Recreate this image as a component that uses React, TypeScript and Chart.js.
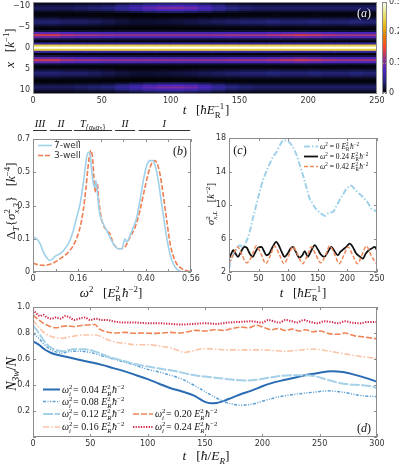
import React, { useEffect, useRef } from 'react';
import { Chart, registerables } from 'chart.js';

Chart.register(...registerables);

const W = 399;
const H = 466;

/* ---------------- panel (a): density map ---------------- */
const heatTimes = [5, 15, 25, 35, 45, 55, 65, 75, 85, 95, 105, 115, 125, 135, 145, 155, 165, 175, 185, 195, 205, 215, 225, 235, 245];
const heatRows = [-11, -10.5, -10, -9.5, -9, -8.5, -8, -7.5, -7, -6.5, -6, -5.5, -5, -4.5, -4, -3.5, -3, -2.5, -2, -1.5, -1, -0.5, 0,
  0.5, 1, 1.5, 2, 2.5, 3, 3.5, 4, 4.5, 5, 5.5, 6, 6.5, 7, 7.5, 8, 8.5, 9, 9.5, 10, 10.5, 11];
const heatProfile = [0.004, 0.012, 0.025, 0.034, 0.026, 0.01, 0.003, 0.006, 0.016, 0.028, 0.03, 0.02, 0.008, 0.003, 0.015, 0.075, 0.12, 0.08, 0.02, 0.004, 0.055, 0.24, 0.3,
  0.24, 0.055, 0.004, 0.02, 0.08, 0.12, 0.075, 0.015, 0.003, 0.008, 0.02, 0.03, 0.028, 0.016, 0.006, 0.003, 0.01, 0.026, 0.034, 0.025, 0.012, 0.004];
const innerBandMod = [1.1, 1.1, 1.0, 0.95, 0.95, 0.92, 0.9, 0.9, 0.9, 0.9, 0.9, 0.9, 0.9, 0.92, 0.95, 0.95, 0.95, 1.0, 1.05, 1.1, 1.05, 1.0, 0.95, 0.95, 0.95];
const middleBandMod = [1.1, 1.1, 1.0, 1.0, 0.9, 0.75, 0.6, 0.5, 0.5, 0.55, 0.6, 0.7, 0.8, 0.9, 1.0, 1.1, 1.1, 1.2, 1.1, 1.1, 1.2, 1.1, 1.1, 1.2, 1.1];
const outerBandMod = [0.8, 0.8, 0.8, 0.9, 1.0, 1.1, 1.5, 2.0, 2.5, 2.8, 2.9, 2.7, 2.2, 1.6, 1.2, 1.0, 0.9, 0.9, 0.9, 0.9, 0.9, 0.9, 0.9, 0.9, 0.9];
const aTimeTicks = [0, 50, 100, 150, 200, 250];
const aPosTicks = [-10, -5, 0, 5, 10];
const colorbarTicks = [0, 0.1, 0.2, 0.3];
const colorbarLabels = ['0', '0.1', '0.2', '0.3'];

/* ---------------- panel (b) ---------------- */
const omega7 = [0, 0.013, 0.025, 0.037, 0.049, 0.058, 0.066, 0.078, 0.096, 0.113, 0.131, 0.143, 0.155, 0.167, 0.178, 0.184, 0.19, 0.196, 0.202, 0.208,
  0.214, 0.22, 0.223, 0.228, 0.232, 0.238, 0.249, 0.261, 0.285, 0.302, 0.315, 0.326, 0.332, 0.344, 0.356, 0.368, 0.379, 0.391, 0.403, 0.415,
  0.424, 0.433, 0.444, 0.456, 0.468, 0.48, 0.492, 0.504, 0.515, 0.53];
const delta7 = [0.11, 0.1, 0.07, 0.02, -0.014, -0.03, -0.026, -0.006, 0.01, 0.04, 0.09, 0.15, 0.23, 0.31, 0.43, 0.51, 0.59, 0.62, 0.61, 0.51,
  0.43, 0.41, 0.45, 0.38, 0.31, 0.24, 0.19, 0.15, 0.07, 0.04, 0.04, 0.1, 0.08, 0.12, 0.17, 0.23, 0.33, 0.45, 0.54, 0.57,
  0.57, 0.54, 0.45, 0.31, 0.17, 0.05, -0.03, -0.07, -0.09, -0.1];
const omega3 = [0, 0.013, 0.037, 0.06, 0.078, 0.096, 0.113, 0.131, 0.149, 0.167, 0.178, 0.188, 0.195, 0.202, 0.206, 0.212, 0.217, 0.223, 0.228, 0.233,
  0.244, 0.261, 0.273, 0.285, 0.309, 0.326, 0.338, 0.344, 0.362, 0.379, 0.397, 0.415, 0.429, 0.438, 0.45, 0.462, 0.474, 0.486, 0.503, 0.527, 0.55, 0.56];
const delta3 = [-0.046, -0.054, -0.06, -0.054, -0.04, -0.02, 0, 0.03, 0.08, 0.17, 0.27, 0.41, 0.53, 0.62, 0.63, 0.57, 0.43, 0.38, 0.43, 0.33,
  0.21, 0.15, 0.13, 0.07, 0.04, 0.05, 0.09, 0.11, 0.17, 0.27, 0.41, 0.53, 0.57, 0.56, 0.49, 0.36, 0.21, 0.07, -0.03, -0.08, -0.095, -0.1];
const bOmegaTicks = [0, 0.08, 0.16, 0.24, 0.32, 0.4, 0.48, 0.56];
const bOmegaLabels = ['0', '', '0.16', '', '', '0.40', '', '0.56'];
const bDeltaTicks = [-0.1, 0.1, 0.3, 0.5, 0.7];
const bDeltaLabels = ['0', '0.1', '0.3', '0.5', '0.7'];
const regimeNames = ['III', 'II', 'T', 'II', 'I'];
const regimeStart = [0, 0.06, 0.145, 0.291, 0.374];
const regimeEnd = [0.049, 0.138, 0.28, 0.362, 0.557];

/* ---------------- panel (c) ---------------- */
const cTime0 = [0, 3, 7, 12, 18, 23, 29, 35, 40, 45, 49, 53, 57, 62, 66, 70, 74, 79, 83, 88, 92, 96, 100, 103, 107, 111, 115, 119, 124, 128,
  132, 136, 141, 145, 149, 153, 157, 162, 167, 171, 176, 180, 184, 188, 193, 197, 201, 204, 207, 211, 215, 219, 224, 228, 232, 236, 240, 245, 250];
const cSigma0 = [2.4, 3.3, 4.0, 4.6, 5.2, 5.0, 5.6, 6.8, 8.3, 9.7, 10.8, 11.9, 12.9, 13.8, 14.5, 15.1, 15.7, 16.2, 16.7, 17.4, 17.7, 17.7, 17.6, 17.4, 17.0,
  16.5, 15.8, 14.9, 13.8, 12.8, 11.8, 10.8, 10.2, 9.7, 9.4, 9.1, 8.9, 8.7, 9.0, 9.1, 9.2, 9.7, 10.2, 10.8, 11.3, 11.8, 12.1, 12.3, 12.3, 12.0,
  11.7, 11.4, 11.1, 10.8, 10.5, 10.1, 9.6, 9.4, 9.2];
const cTime24 = [0, 4, 7, 11, 15, 20, 26, 30, 35, 40, 44, 49, 55, 59, 63, 68, 73, 80, 84, 89, 94, 99, 104, 108, 113, 119, 124, 128, 133, 138,
  145, 150, 155, 161, 167, 173, 178, 184, 188, 193, 198, 204, 209, 214, 220, 226, 231, 236, 241, 246, 250];
const cSigma24 = [3.6, 4.2, 4.6, 4.2, 3.8, 4.4, 5.0, 4.9, 4.2, 3.8, 4.3, 4.9, 5.0, 4.5, 4.0, 4.2, 4.9, 5.6, 5.2, 4.4, 3.8, 4.2, 4.8, 5.0, 4.4,
  3.7, 4.0, 4.5, 3.8, 4.4, 5.2, 4.7, 4.1, 3.8, 4.4, 5.0, 4.5, 4.0, 4.4, 4.7, 5.0, 5.4, 5.0, 4.3, 3.9, 3.6, 4.2, 4.6, 4.8, 5.0, 4.6];
const cTime42 = [0, 8, 15, 22, 30, 38, 46, 54, 62, 70, 77, 85, 93, 101, 108, 116, 124, 132, 139, 147, 155, 163, 170, 178, 186, 194, 201, 209, 217, 225,
  232, 240, 248, 250];
const cSigma42 = [3.0, 4.2, 5.0, 4.0, 3.1, 3.8, 5.1, 4.2, 3.0, 4.0, 5.1, 4.1, 3.0, 4.0, 5.0, 4.1, 3.0, 3.9, 5.0, 4.0, 3.1, 4.0, 5.1, 4.2, 3.0,
  4.0, 5.0, 4.0, 3.0, 4.1, 5.1, 4.0, 3.1, 3.0];
const cTimeTicks = [0, 50, 100, 150, 200, 250];
const cSigmaTicks = [2, 6, 10, 14, 18];
const cLegend = ['0', '0.24', '0.42'];

/* ---------------- panel (d) ---------------- */
const dTime04 = [0, 5, 10, 15, 20, 30, 40, 50, 60, 70, 80, 90, 100, 110, 120, 130, 140, 145, 150, 155, 160, 170, 180, 190, 200, 210, 220, 230, 240, 250, 260, 270, 280, 290, 300];
const dN04 = [0.735, 0.71, 0.675, 0.65, 0.635, 0.615, 0.595, 0.575, 0.555, 0.53, 0.505, 0.475, 0.445, 0.41, 0.375, 0.35, 0.32, 0.295, 0.27, 0.26,
  0.262, 0.29, 0.325, 0.355, 0.39, 0.42, 0.44, 0.46, 0.48, 0.495, 0.505, 0.5, 0.48, 0.455, 0.425];
const dTime08 = [0, 5, 10, 15, 20, 25, 30, 40, 50, 60, 70, 80, 90, 100, 110, 120, 130, 140, 150, 160, 170, 180, 190, 200, 215, 230, 245, 258, 270, 285, 300];
const dN08 = [0.8, 0.76, 0.71, 0.675, 0.655, 0.645, 0.655, 0.66, 0.65, 0.625, 0.6, 0.575, 0.55, 0.52, 0.5, 0.475, 0.445, 0.4, 0.35, 0.3,
  0.262, 0.245, 0.25, 0.275, 0.31, 0.33, 0.345, 0.355, 0.345, 0.32, 0.31];
const dTime12 = [0, 5, 10, 15, 20, 27, 35, 45, 55, 65, 75, 85, 95, 105, 115, 125, 135, 145, 155, 165, 175, 185, 195, 205, 215, 225, 235, 245, 255, 265, 275, 285, 295, 300];
const dN12 = [0.86, 0.8, 0.735, 0.69, 0.67, 0.66, 0.675, 0.675, 0.655, 0.62, 0.595, 0.57, 0.55, 0.535, 0.52, 0.505, 0.485, 0.47, 0.46, 0.45,
  0.44, 0.435, 0.44, 0.455, 0.47, 0.475, 0.475, 0.47, 0.445, 0.42, 0.405, 0.4, 0.39, 0.375];
const dTime16 = [0, 5, 10, 17, 25, 35, 45, 55, 62, 70, 80, 90, 100, 110, 120, 127, 132, 140, 150, 160, 170, 180, 190, 200, 210, 220, 230, 240, 248, 255, 265, 275, 285, 300];
const dN16 = [0.9, 0.845, 0.8, 0.77, 0.76, 0.775, 0.785, 0.785, 0.76, 0.735, 0.72, 0.71, 0.71, 0.7, 0.685, 0.665, 0.65, 0.665, 0.68, 0.675,
  0.67, 0.67, 0.67, 0.67, 0.665, 0.66, 0.665, 0.675, 0.675, 0.665, 0.65, 0.635, 0.62, 0.605];
const dTime20 = [0, 5, 10, 15, 20, 25, 30, 36, 42, 48, 54, 58, 64, 72, 80, 88, 96, 104, 112, 120, 128, 135, 142, 150, 158, 166, 174, 182, 188, 195,
  202, 208, 214, 220, 226, 232, 238, 244, 250, 258, 266, 272, 280, 288, 300];
const dN20 = [0.94, 0.9, 0.87, 0.85, 0.84, 0.85, 0.855, 0.848, 0.858, 0.862, 0.865, 0.83, 0.81, 0.8, 0.805, 0.798, 0.8, 0.797, 0.8, 0.805,
  0.8, 0.81, 0.82, 0.815, 0.825, 0.82, 0.835, 0.845, 0.84, 0.86, 0.84, 0.825, 0.835, 0.82, 0.83, 0.815, 0.825, 0.81, 0.815, 0.795,
  0.79, 0.8, 0.78, 0.77, 0.755];
const dTime24 = [0, 3, 6, 9, 12, 16, 20, 24, 28, 32, 36, 40, 45, 50, 55, 60, 65, 70, 80, 90, 100, 110, 120, 130, 140, 150, 160, 170, 180, 190,
  200, 205, 210, 215, 220, 226, 230, 236, 242, 248, 254, 260, 266, 272, 278, 285, 292, 300];
const dN24 = [0.98, 0.95, 0.93, 0.94, 0.92, 0.91, 0.92, 0.91, 0.93, 0.92, 0.9, 0.91, 0.92, 0.9, 0.91, 0.9, 0.9, 0.89, 0.88, 0.88,
  0.875, 0.875, 0.87, 0.865, 0.87, 0.875, 0.87, 0.88, 0.885, 0.89, 0.88, 0.9, 0.89, 0.88, 0.9, 0.89, 0.88, 0.9, 0.885, 0.875,
  0.89, 0.885, 0.875, 0.89, 0.88, 0.875, 0.885, 0.885];
const dLegend = ['0.04', '0.08', '0.12', '0.16', '0.20', '0.24'];
const dTimeTicks = [0, 50, 100, 150, 200, 250, 300];
const dNTicks = [0, 0.2, 0.4, 0.6, 0.8, 1.0];
const dNLabels = ['', '0.2', '0.4', '0.6', '0.8', '1.0'];

/* ---------------- styling helpers ---------------- */
const SERIF = '"Liberation Serif", "DejaVu Serif", serif';
const SANS = '"DejaVu Sans", sans-serif';
const TICK_FONT = { family: SANS, size: 8 };
const TICK_COLOR = '#333';
const FRAME = '#8c8c8c';

const CMR = [[0, 0, 0, 0], [0.125, 0.15, 0.15, 0.5], [0.25, 0.3, 0.15, 0.75], [0.375, 0.6, 0.2, 0.5], [0.5, 1, 0.25, 0.15],
  [0.625, 0.9, 0.5, 0], [0.75, 0.9, 0.75, 0.1], [0.875, 0.9, 0.9, 0.5], [1, 1, 1, 1]];
function cmr(f: number): string {
  const v = Math.max(0, Math.min(1, f));
  let i = 0;
  while (i < CMR.length - 2 && v > CMR[i + 1][0]) i++;
  const a = CMR[i];
  const b = CMR[i + 1];
  const k = (v - a[0]) / (b[0] - a[0]);
  const c = [1, 2, 3].map((j) => Math.round(255 * (a[j] + (b[j] - a[j]) * k)));
  return `rgb(${c[0]},${c[1]},${c[2]})`;
}

type Seg = { t?: string; it?: boolean; sc?: number; dy?: number; st?: [string, string]; stIt?: [boolean, boolean] };
const I = (t: string): Seg => ({ t, it: true });
const N = (t: string): Seg => ({ t });
const sup = (t: string, it = false): Seg => ({ t, it, sc: 0.68, dy: -0.4 });
const sub = (t: string, it = false): Seg => ({ t, it, sc: 0.68, dy: 0.25 });

function rich(ctx: CanvasRenderingContext2D, segs: Seg[], x: number, y: number, size: number,
  o: { align?: 'center' | 'left'; rot?: boolean; color?: string; family?: string } = {}) {
  const fam = o.family ?? SERIF;
  const f = (sc: number, it?: boolean) => `${it ? 'italic ' : ''}${(size * sc).toFixed(2)}px ${fam}`;
  ctx.save();
  ctx.translate(x, y);
  if (o.rot) ctx.rotate(-Math.PI / 2);
  ctx.fillStyle = o.color ?? '#111';
  ctx.textBaseline = 'alphabetic';
  ctx.textAlign = 'left';
  const ws = segs.map((s) => {
    if (s.st) {
      ctx.font = f(0.68, s.stIt?.[0]);
      const a = ctx.measureText(s.st[0]).width;
      ctx.font = f(0.68, s.stIt?.[1]);
      const b = ctx.measureText(s.st[1]).width;
      return Math.max(a, b) + size * 0.06;
    }
    ctx.font = f(s.sc ?? 1, s.it);
    return ctx.measureText(s.t ?? '').width;
  });
  const total = ws.reduce((p, q) => p + q, 0);
  let cx = (o.align ?? 'center') === 'center' ? -total / 2 : 0;
  const base = size * 0.33;
  segs.forEach((s, i) => {
    if (s.st) {
      ctx.font = f(0.68, s.stIt?.[0]);
      ctx.fillText(s.st[0], cx, base - size * 0.4);
      ctx.font = f(0.68, s.stIt?.[1]);
      ctx.fillText(s.st[1], cx, base + size * 0.27);
    } else {
      ctx.font = f(s.sc ?? 1, s.it);
      ctx.fillText(s.t ?? '', cx, base + (s.dy ?? 0) * size);
    }
    cx += ws[i];
  });
  ctx.restore();
}

function pad(L: number, T: number, R: number, B: number, yW: number, xH: number, yRight = false) {
  return {
    padding: {
      left: yRight ? L : L - yW,
      top: T,
      right: yRight ? W - R - yW : W - R,
      bottom: H - B - xH,
    },
  };
}
const zeroPad = (s: any) => { s.paddingTop = 0; s.paddingBottom = 0; s.paddingLeft = 0; s.paddingRight = 0; };
const fixX = (h: number) => (s: any) => { s.height = h; zeroPad(s); };
const fixY = (w: number) => (s: any) => { s.width = w; zeroPad(s); };
const setTicks = (vals: number[]) => (s: any) => { s.ticks = vals.map((v) => ({ value: v })); };

function axis(extra: any) {
  return {
    grid: { display: false, drawTicks: false },
    border: { display: false },
    ...extra,
    ticks: { font: TICK_FONT, color: TICK_COLOR, autoSkip: false, maxRotation: 0, minRotation: 0, ...(extra.ticks || {}) },
  };
}

function framePlugin(xt: number[], yt: number[], len = 3, color = FRAME) {
  return {
    id: 'frame',
    afterDatasetsDraw(chart: any) {
      const { ctx, chartArea: a, scales } = chart;
      ctx.save();
      ctx.strokeStyle = color;
      ctx.lineWidth = 1;
      ctx.setLineDash([]);
      ctx.beginPath();
      if (scales.x && scales.x.options.display !== false) {
        for (const v of xt) {
          const p = Math.round(scales.x.getPixelForValue(v)) + 0.5;
          ctx.moveTo(p, a.bottom); ctx.lineTo(p, a.bottom - len);
          ctx.moveTo(p, a.top); ctx.lineTo(p, a.top + len);
        }
      }
      for (const v of yt) {
        const p = Math.round(scales.y.getPixelForValue(v)) + 0.5;
        ctx.moveTo(a.left, p); ctx.lineTo(a.left + len, p);
        ctx.moveTo(a.right, p); ctx.lineTo(a.right - len, p);
      }
      ctx.stroke();
      const l = Math.round(a.left) + 0.5;
      const t = Math.round(a.top) + 0.5;
      ctx.strokeRect(l, t, Math.round(a.right) - Math.round(a.left) - 1, Math.round(a.bottom) - Math.round(a.top) - 1);
      ctx.restore();
    },
  };
}

const pts = (xs: number[], ys: number[]) => xs.map((x, i) => ({ x, y: ys[i] }));

const tTitle: Seg[] = [I('t'), N('   ['), I('ħE'), { st: ['−1', 'R'] }, N(']')];
const legendSample = (ctx: CanvasRenderingContext2D, x0: number, x1: number, y: number, color: string, width: number, dash: number[]) => {
  ctx.save();
  ctx.strokeStyle = color;
  ctx.lineWidth = width;
  ctx.setLineDash(dash);
  ctx.beginPath();
  ctx.moveTo(x0, y);
  ctx.lineTo(x1, y);
  ctx.stroke();
  ctx.restore();
};

/* ---------------- chart configs ---------------- */
function heatConfig(): any {
  const cells: any[] = [];
  const colors: string[] = [];
  heatTimes.forEach((t, ci) => {
    heatRows.forEach((x, ri) => {
      const ax = Math.abs(x);
      const mod = ax <= 1.5 ? 1 : ax <= 4.5 ? innerBandMod[ci] : ax <= 8 ? middleBandMod[ci] : outerBandMod[ci];
      cells.push({ x: t, y: [x - 0.25, x + 0.25] });
      colors.push(cmr((heatProfile[ri] * mod) / 0.3));
    });
  });
  return {
    type: 'bar',
    data: { datasets: [{ data: cells, backgroundColor: colors, borderWidth: 0, barPercentage: 1, categoryPercentage: 1 }] },
    options: {
      responsive: false, animation: false, devicePixelRatio: 1,
      layout: pad(33, 2, 377, 94, 30, 14),
      plugins: { legend: { display: false }, tooltip: { enabled: false } },
      scales: {
        x: axis({ type: 'linear', min: 0, max: 250, offset: false, afterBuildTicks: setTicks(aTimeTicks), afterFit: fixX(14), ticks: { padding: 2, callback: (v: number) => String(v) } }),
        y: axis({ type: 'linear', reverse: true, min: -11, max: 11, afterBuildTicks: setTicks(aPosTicks), afterFit: fixY(30), ticks: { padding: 3, callback: (v: number) => (v < 0 ? '−' + Math.abs(v) : String(v)) } }),
      },
    },
    plugins: [
      { id: 'bg', beforeDatasetsDraw(chart: any) { const { ctx, chartArea: a } = chart; ctx.save(); ctx.fillStyle = '#000'; ctx.fillRect(a.left, a.top, a.right - a.left, a.bottom - a.top); ctx.restore(); } },
      framePlugin([], []),
      {
        id: 'decorA',
        afterDraw(chart: any) {
          const ctx = chart.ctx;
          rich(ctx, tTitle, 206, 110, 13);
          rich(ctx, [I('x'), N('   ['), I('k'), sup('−1'), N(']')], 10, 48, 13, { rot: true });
          rich(ctx, [N('('), I('a'), N(')')], 364, 13, 12, { color: '#f2f2f2' });
        },
      },
    ],
  };
}

function colorbarConfig(): any {
  const datasets: any[] = [];
  for (let i = 0; i < 60; i++) {
    const lo = i * 0.005;
    datasets.push({ data: [[lo, lo + 0.005]], backgroundColor: cmr((lo + 0.0025) / 0.3), borderWidth: 0, grouped: false, barPercentage: 1, categoryPercentage: 1 });
  }
  return {
    type: 'bar',
    data: { labels: [''], datasets },
    options: {
      responsive: false, animation: false, devicePixelRatio: 1,
      layout: pad(382, 2, 387, 93, 12, 0, true),
      plugins: { legend: { display: false }, tooltip: { enabled: false } },
      scales: {
        x: { display: false },
        y: axis({ type: 'linear', position: 'right', min: 0, max: 0.3, afterBuildTicks: setTicks(colorbarTicks), afterFit: fixY(12), ticks: { padding: 2, callback: (_v: number, i: number) => colorbarLabels[i] } }),
      },
    },
    plugins: [framePlugin([], colorbarTicks, 2)],
  };
}

function panelBConfig(): any {
  const c7 = '#9fd2ea';
  const c3 = '#ef7d52';
  return {
    type: 'line',
    data: {
      datasets: [
        { label: '7-well', data: pts(omega7, delta7), borderColor: c7, borderWidth: 1.6, pointRadius: 0, cubicInterpolationMode: 'monotone' },
        { label: '3-well', data: pts(omega3, delta3), borderColor: c3, borderWidth: 1.6, borderDash: [5, 2], pointRadius: 0, cubicInterpolationMode: 'monotone' },
      ],
    },
    options: {
      responsive: false, animation: false, devicePixelRatio: 1,
      layout: pad(33, 139, 191, 272, 30, 14),
      plugins: { legend: { display: false }, tooltip: { enabled: false } },
      scales: {
        x: axis({ type: 'linear', min: 0, max: 0.56, afterBuildTicks: setTicks(bOmegaTicks), afterFit: fixX(14), ticks: { padding: 2, callback: (_v: number, i: number) => bOmegaLabels[i] } }),
        y: axis({ type: 'linear', min: -0.1, max: 0.7, afterBuildTicks: setTicks(bDeltaTicks), afterFit: fixY(30), ticks: { padding: 3, callback: (_v: number, i: number) => bDeltaLabels[i] } }),
      },
    },
    plugins: [
      framePlugin(bOmegaTicks, bDeltaTicks),
      {
        id: 'decorB',
        afterDraw(chart: any) {
          const ctx = chart.ctx;
          const xs = chart.scales.x;
          regimeNames.forEach((name, i) => {
            const x0 = xs.getPixelForValue(regimeStart[i]);
            const x1 = xs.getPixelForValue(regimeEnd[i]);
            ctx.save();
            ctx.strokeStyle = '#333';
            ctx.lineWidth = 1;
            ctx.beginPath();
            ctx.moveTo(x0, 130.5);
            ctx.lineTo(x1, 130.5);
            ctx.stroke();
            ctx.restore();
            const segs: Seg[] = name === 'T'
              ? [I('T'), { t: '{α', it: true, sc: 0.72, dy: 0.25 }, { t: '6', sc: 0.52, dy: 0.4 }, { t: 'α', it: true, sc: 0.72, dy: 0.25 }, { t: '5', sc: 0.52, dy: 0.4 }, { t: '}', sc: 0.72, dy: 0.25 }]
              : [I(name)];
            rich(ctx, segs, (x0 + x1) / 2, 123.5, 10.5);
          });
          legendSample(ctx, 38, 52, 145.5, c7, 1.6, []);
          legendSample(ctx, 38, 52, 155.5, c3, 1.6, [5, 2]);
          rich(ctx, [N('7-well')], 54, 145.5, 9, { align: 'left', family: SANS, color: '#333' });
          rich(ctx, [N('3-well')], 54, 155.5, 9, { align: 'left', family: SANS, color: '#333' });
          rich(ctx, [N('('), I('b'), N(')')], 180, 151, 12);
          rich(ctx, [I('ω'), sup('2'), N('   ['), I('E'), { st: ['2', 'R'] }, I('ħ'), sup('−2'), N(']')], 111, 293, 13);
          rich(ctx, [N('Δ'), sub('T', true), N('{'), I('σ'), { st: ['2', 'x,3'], stIt: [false, true] }, N('}   ['), I('k'), sup('−4'), N(']')], 11, 201, 13, { rot: true });
        },
      },
    ],
  };
}

function panelCConfig(): any {
  const c0 = '#9fd2ea';
  const c24 = '#111111';
  const c42 = '#f08a5d';
  const dashes = [[6, 2, 1.5, 2], [], [4, 2]];
  const colors = [c0, c24, c42];
  const widths = [2, 1.8, 1.5];
  return {
    type: 'line',
    data: {
      datasets: [
        { data: pts(cTime42, cSigma42), borderColor: c42, borderWidth: 1.5, borderDash: [4, 2], pointRadius: 0, cubicInterpolationMode: 'monotone' },
        { data: pts(cTime24, cSigma24), borderColor: c24, borderWidth: 1.8, pointRadius: 0, cubicInterpolationMode: 'monotone' },
        { data: pts(cTime0, cSigma0), borderColor: c0, borderWidth: 2, borderDash: [6, 2, 1.5, 2], pointRadius: 0, cubicInterpolationMode: 'monotone' },
      ],
    },
    options: {
      responsive: false, animation: false, devicePixelRatio: 1,
      layout: pad(229, 138, 377, 272, 20, 14),
      plugins: { legend: { display: false }, tooltip: { enabled: false } },
      scales: {
        x: axis({ type: 'linear', min: 0, max: 250, afterBuildTicks: setTicks(cTimeTicks), afterFit: fixX(14), ticks: { padding: 2, callback: (v: number) => String(v) } }),
        y: axis({ type: 'linear', min: 2, max: 18, afterBuildTicks: setTicks(cSigmaTicks), afterFit: fixY(20), ticks: { padding: 3, callback: (v: number) => String(v) } }),
      },
    },
    plugins: [
      framePlugin(cTimeTicks, cSigmaTicks),
      {
        id: 'decorC',
        afterDraw(chart: any) {
          const ctx = chart.ctx;
          cLegend.forEach((w, i) => {
            const y = 146.5 + i * 10;
            legendSample(ctx, 304, 318, y, colors[i], widths[i], dashes[i]);
            rich(ctx, [I('ω'), sup('2'), N(' = ' + w + ' '), I('E'), { st: ['2', 'R'] }, I('ħ'), sup('−2')], 320, y, 7.5, { align: 'left' });
          });
          rich(ctx, [N('('), I('c'), N(')')], 240, 150, 12);
          rich(ctx, tTitle, 303, 293, 13);
          rich(ctx, [I('σ'), { st: ['2', 'x,L'], stIt: [false, true] }, N('   ['), I('k'), sup('−2'), N(']')], 211, 204, 10.5, { rot: true });
        },
      },
    ],
  };
}

function panelDConfig(): any {
  const colors = ['#2a6cb3', '#5a9fd5', '#a4d0e8', '#fbc4a7', '#ee8457', '#d42a4a'];
  const dashes = [[], [3, 1.5, 1, 1.5, 1, 1.5], [10, 1.5], [6, 2, 1.5, 2], [6, 2], [1.3, 1.3]];
  const widths = [2, 1.5, 2, 1.6, 1.6, 2];
  const times = [dTime04, dTime08, dTime12, dTime16, dTime20, dTime24];
  const vals = [dN04, dN08, dN12, dN16, dN20, dN24];
  const datasets = times.map((t, i) => ({
    data: pts(t, vals[i]), borderColor: colors[i], borderWidth: widths[i], borderDash: dashes[i], pointRadius: 0, cubicInterpolationMode: 'monotone',
  })).reverse();
  return {
    type: 'line',
    data: { datasets },
    options: {
      responsive: false, animation: false, devicePixelRatio: 1,
      layout: pad(33, 307, 377, 437, 30, 14),
      plugins: { legend: { display: false }, tooltip: { enabled: false } },
      scales: {
        x: axis({ type: 'linear', min: 0, max: 300, afterBuildTicks: setTicks(dTimeTicks), afterFit: fixX(14), ticks: { padding: 2, callback: (v: number) => String(v) } }),
        y: axis({ type: 'linear', min: 0, max: 1.0, afterBuildTicks: setTicks(dNTicks), afterFit: fixY(30), ticks: { padding: 3, callback: (_v: number, i: number) => dNLabels[i] } }),
      },
    },
    plugins: [
      framePlugin(dTimeTicks, dNTicks),
      {
        id: 'decorD',
        afterDraw(chart: any) {
          const ctx = chart.ctx;
          const rows = [389.5, 401.5, 414, 427];
          dLegend.forEach((w, i) => {
            const col = i < 4 ? 0 : 1;
            const y = col === 0 ? rows[i] : rows[i - 2];
            const x0 = col === 0 ? 43 : 133;
            const x1 = col === 0 ? 60 : 153;
            legendSample(ctx, x0, x1, y, colors[i], widths[i], dashes[i]);
            rich(ctx, [I('ω'), { st: ['2', 'i'], stIt: [false, true] }, N('= ' + w + ' '), I('E'), { st: ['2', 'R'], stIt: [false, true] }, I('ħ'), sup('−2')], x1 + 2, y, 10, { align: 'left' });
          });
          rich(ctx, [N('('), I('d'), N(')')], 364, 428, 12);
          rich(ctx, [I('t'), N('   ['), I('ħ'), N('/'), I('E'), sub('R', true), N(']')], 206, 456, 13.5);
          rich(ctx, [I('N'), sub('3w', true), N('/'), I('N')], 11, 374, 14, { rot: true });
        },
      },
    ],
  };
}

export default function App() {
  const r0 = useRef<HTMLCanvasElement>(null);
  const r1 = useRef<HTMLCanvasElement>(null);
  const r2 = useRef<HTMLCanvasElement>(null);
  const r3 = useRef<HTMLCanvasElement>(null);
  const r4 = useRef<HTMLCanvasElement>(null);
  const refs = [r0, r1, r2, r3, r4];
  useEffect(() => {
    const makers = [heatConfig, colorbarConfig, panelBConfig, panelCConfig, panelDConfig];
    const charts = makers.map((mk, i) => new Chart(refs[i].current as HTMLCanvasElement, mk()));
    return () => charts.forEach((c) => c.destroy());
  }, []);
  return (
    <div style={{ position: 'fixed', left: 0, top: 0, width: W, height: H, background: '#fff' }}>
      {refs.map((r, i) => (
        <canvas key={i} ref={r} width={W} height={H} style={{ position: 'absolute', left: 0, top: 0, width: W, height: H }} />
      ))}
    </div>
  );
}
